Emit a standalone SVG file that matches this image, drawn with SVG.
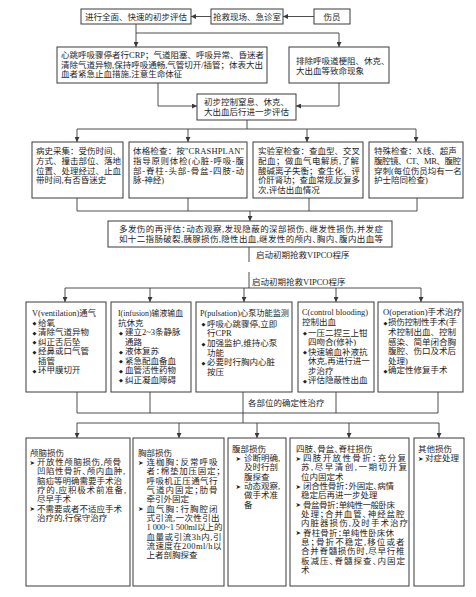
<svg xmlns="http://www.w3.org/2000/svg" width="476" height="597" viewBox="0 0 476 597">
<style>
.t{font-family:"Liberation Serif","Noto Sans CJK SC",serif;font-size:8.5px;fill:#1e1e1e}
.h{font-feature-settings:"halt"}
.m{text-anchor:middle}
.b{fill:#fff;stroke:#3a3a3a;stroke-width:1}
.c{fill:none;stroke:#3a3a3a;stroke-width:0.9}
.a{marker-end:url(#ah)}
.bu{font-family:"DejaVu Sans",sans-serif;font-size:5px;fill:#1e1e1e}
.ar{font-family:"DejaVu Sans",sans-serif;font-size:6.5px;fill:#1e1e1e}
</style>
<defs>
<marker id="ah" viewBox="0 0 8 8" refX="8" refY="4" markerWidth="5" markerHeight="5" orient="auto" markerUnits="userSpaceOnUse"><path d="M0,0 L8,4 L0,8 z" fill="#3a3a3a"/></marker>
</defs>
<rect width="476" height="597" fill="#fff"/>

<g id="connectors">
<path class="c a" d="M314,16.5 H283"/>
<path class="c a" d="M211,16.5 H191"/>
<path class="c a" d="M136,24 V47"/>
<path class="c a" d="M136,33 H339 V47"/>
<path class="c a" d="M158,83 V106 H197"/>
<path class="c a" d="M339,83 V106 H296"/>
<path class="c" d="M247,120 V129 M77,129 H416"/>
<path class="c a" d="M77,129 V142"/>
<path class="c a" d="M188,129 V142"/>
<path class="c a" d="M307,129 V142"/>
<path class="c a" d="M416,129 V142"/>
<path class="c" d="M77,198 V211 H417 V198 M188,198 V211 M309,198 V211"/>
<path class="c a" d="M250,211 V221"/>
<path class="c" d="M249,247 V262 M249,272 V288 M65,288 H421"/>
<path class="c a" d="M65,288 V302"/>
<path class="c a" d="M150,288 V302"/>
<path class="c a" d="M244,288 V302"/>
<path class="c a" d="M336,288 V302"/>
<path class="c a" d="M421,288 V302"/>
<path class="c" d="M77,392 V413 H438 V392 M150,392 V413 M336,392 V413 M243,392 V423 M77,423 H439"/>
<path class="c a" d="M77,423 V438"/>
<path class="c a" d="M179,423 V438"/>
<path class="c a" d="M257,423 V438"/>
<path class="c a" d="M349,423 V438"/>
<path class="c a" d="M439,423 V438"/>
<text class="t" x="256" y="258">启动初期抢救VIPCO程序</text>
<text class="t" x="252" y="285">启动初期抢救VIPCO程序</text>
<text class="t" x="248" y="406">各部位的确定性治疗</text>
</g>

<g id="n-assess">
<rect class="b" x="81" y="9" width="110" height="15"/>
<text class="t m" x="136" y="19.5">进行全面、快速的初步评估</text>
</g>
<g id="n-scene">
<rect class="b" x="211" y="9" width="72" height="15"/>
<text class="t m" x="247" y="19.5">抢救现场、急诊室</text>
</g>
<g id="n-injured">
<rect class="b" x="314" y="9" width="36" height="15"/>
<text class="t m" x="332" y="19.5">伤员</text>
</g>

<g id="n-cpr">
<rect class="b" x="57" y="47" width="210" height="36"/>
<text class="t" x="61" y="57.5">心跳呼吸骤停者行CRP；气道阻塞、呼吸异常、昏迷者</text>
<text class="t" x="61" y="67.5">清除气道异物,保持呼吸通畅,气管切开/插管；体表大出</text>
<text class="t" x="61" y="77">血者紧急止血措施,注意生命体征</text>
</g>
<g id="n-exclude">
<rect class="b" x="289" y="47" width="100" height="36"/>
<text class="t" x="296" y="64">排除呼吸道梗阻、休克、</text>
<text class="t" x="296" y="74">大出血等致命现象</text>
</g>
<g id="n-control">
<rect class="b" x="197" y="94" width="99" height="26"/>
<text class="t" x="204" y="105">初步控制窒息、休克、</text>
<text class="t" x="204" y="115">大出血后行进一步评估</text>
</g>

<g id="n-history">
<rect class="b" x="32" y="142" width="91" height="56"/>
<text class="t" x="36" y="154">病史采集：受伤时间、</text>
<text class="t" x="36" y="163.8">方式、撞击部位、落地</text>
<text class="t" x="36" y="173.6">位置、处理经过、止血</text>
<text class="t" x="36" y="183.4">带时间,有否昏迷史</text>
</g>
<g id="n-physical">
<rect class="b" x="129" y="142" width="118" height="56"/>
<text class="t" x="133" y="154" textLength="111" lengthAdjust="spacing">体格检查：按"CRASHPLAN"</text>
<text class="t" x="133" y="163.8" textLength="111" lengthAdjust="spacing">指导原则体检(心脏-呼吸-腹</text>
<text class="t" x="133" y="173.6" textLength="111" lengthAdjust="spacing">部-脊柱-头部-骨盆-四肢-动</text>
<text class="t" x="133" y="183.4">脉-神经)</text>
</g>
<g id="n-lab">
<rect class="b" x="253" y="142" width="110" height="56"/>
<text class="t" x="258" y="154">实验室检查：查血型、交叉</text>
<text class="t" x="258" y="163.8" textLength="101" lengthAdjust="spacing">配血；做血气电解质,了解</text>
<text class="t" x="258" y="173.6">酸碱离子失衡；查生化、评</text>
<text class="t" x="258" y="183.4" textLength="102" lengthAdjust="spacing">价肝肾功；查血常规,反复多</text>
<text class="t" x="258" y="193.2">次,评估出血情况</text>
</g>
<g id="n-special">
<rect class="b" x="369" y="142" width="94" height="56"/>
<text class="t" x="374" y="154">特殊检查：X线、超声</text>
<text class="t" x="374" y="163.8" textLength="87" lengthAdjust="spacing">腹腔镜、CT、MR、腹腔</text>
<text class="t" x="374" y="173.6">穿刺(每位伤员均有一名</text>
<text class="t" x="374" y="183.4">护士陪同检查)</text>
</g>

<g id="n-reassess">
<rect class="b" x="108" y="221" width="284" height="26"/>
<text class="t h" x="119" y="232" textLength="264" lengthAdjust="spacing">多发伤的再评估：动态观察,发现隐蔽的深部损伤、继发性损伤,并发症</text>
<text class="t h" x="119" y="242" textLength="264" lengthAdjust="spacing">如十二指肠破裂,胰腺损伤,隐性出血,继发性的颅内、胸内、腹内出血等</text>
</g>

<g id="n-v">
<rect class="b" x="26" y="302" width="80" height="90"/>
<text class="t" x="32" y="316" textLength="64" lengthAdjust="spacingAndGlyphs">V(ventilation)通气</text>
<text class="bu" x="32.5" y="325">◆</text><text class="t" x="38" y="325.5">给氧</text>
<text class="bu" x="32.5" y="334.5">◆</text><text class="t" x="38" y="335">清除气道异物</text>
<text class="bu" x="32.5" y="344">◆</text><text class="t" x="38" y="344.5">纠正舌后坠</text>
<text class="bu" x="32.5" y="353.5">◆</text><text class="t" x="38" y="354">经鼻或口气管</text>
<text class="t" x="38" y="363.5">插管</text>
<text class="bu" x="32.5" y="372.5">◆</text><text class="t" x="38" y="373">环甲膜切开</text>
</g>
<g id="n-i">
<rect class="b" x="111" y="302" width="80" height="90"/>
<text class="t" x="118" y="316" textLength="65" lengthAdjust="spacingAndGlyphs">I(infusion)输液输血</text>
<text class="t" x="118" y="325.5">抗休克</text>
<text class="bu" x="119" y="334.5">◆</text><text class="t" x="125" y="335">建立2~3条静脉</text>
<text class="t" x="125" y="344.5">通路</text>
<text class="bu" x="119" y="353.5">◆</text><text class="t" x="125" y="354">液体复苏</text>
<text class="bu" x="119" y="363">◆</text><text class="t" x="125" y="363.5">紧急配血备血</text>
<text class="bu" x="119" y="372.5">◆</text><text class="t" x="125" y="373">血管活性药物</text>
<text class="bu" x="119" y="382">◆</text><text class="t" x="125" y="382.5">纠正凝血障碍</text>
</g>
<g id="n-p">
<rect class="b" x="196" y="302" width="96" height="90"/>
<text class="t" x="200" y="316" textLength="89" lengthAdjust="spacingAndGlyphs">P(pulsation)心泵功能监测</text>
<text class="bu" x="201.5" y="326">◆</text><text class="t" x="207" y="326.5">呼吸心跳骤停,立即</text>
<text class="t" x="207" y="336">行CPR</text>
<text class="bu" x="201.5" y="345.5">◆</text><text class="t" x="207" y="346">加强监护,维持心泵</text>
<text class="t" x="207" y="355.5">功能</text>
<text class="bu" x="201.5" y="364.5">◆</text><text class="t" x="207" y="365">必要时行胸内心脏</text>
<text class="t" x="207" y="374.5">按压</text>
</g>
<g id="n-c">
<rect class="b" x="298" y="302" width="76" height="90"/>
<text class="t" x="302" y="315" textLength="66" lengthAdjust="spacingAndGlyphs">C(control blooding)</text>
<text class="t" x="302" y="324.5">控制出血</text>
<text class="bu" x="303" y="335">◆</text><text class="t" x="308" y="335.5">一压二捏三上钳</text>
<text class="t" x="308" y="345">四吻合(修补)</text>
<text class="bu" x="303" y="354">◆</text><text class="t" x="308" y="354.5">快速输血补液抗</text>
<text class="t" x="308" y="364">休克,再进行进一</text>
<text class="t" x="308" y="373.5">步治疗</text>
<text class="bu" x="303" y="382.5">◆</text><text class="t" x="308" y="383">评估隐蔽性出血</text>
</g>
<g id="n-o">
<rect class="b" x="378" y="302" width="85" height="90"/>
<text class="t" x="383" y="315" textLength="79" lengthAdjust="spacingAndGlyphs">O(operation)手术治疗</text>
<text class="bu" x="383.5" y="324.5">◆</text><text class="t" x="388" y="325" textLength="69" lengthAdjust="spacing">损伤控制性手术(手</text>
<text class="t" x="388" y="335">术控制出血、控制</text>
<text class="t" x="388" y="344.5">感染、简单闭合胸</text>
<text class="t" x="388" y="354">腹腔、伤口及术后</text>
<text class="t" x="388" y="363.5">处理)</text>
<text class="bu" x="383.5" y="372.5">◆</text><text class="t" x="388" y="373">确定性修复手术</text>
</g>

<g id="n-head">
<rect class="b" x="26" y="438" width="104" height="148"/>
<text class="t h" x="30" y="455.5">颅脑损伤</text>
<text class="ar" x="29.5" y="464.6">➤</text><text class="t h" x="37" y="464.85" textLength="84" lengthAdjust="spacing">开放性颅脑损伤,颅骨</text>
<text class="t h" x="37" y="474.2" textLength="88" lengthAdjust="spacing">凹陷性骨折、颅内血肿,</text>
<text class="t h" x="37" y="483.55">脑疝等明确需要手术治</text>
<text class="t h" x="37" y="492.9" textLength="89" lengthAdjust="spacing">疗的,应积极术前准备,</text>
<text class="t h" x="37" y="502.25">尽早手术</text>
<text class="ar" x="29.5" y="511.4">➤</text><text class="t h" x="37" y="511.6">不需要或者不适应手术</text>
<text class="t h" x="37" y="520.95">治疗的,行保守治疗</text>
</g>
<g id="n-chest">
<rect class="b" x="133" y="438" width="91" height="148"/>
<text class="t h" x="138" y="455.5">胸部损伤</text>
<text class="ar" x="138" y="464.6">➤</text><text class="t h" x="146.5" y="464.85" textLength="71" lengthAdjust="spacing">连枷胸：反常呼吸</text>
<text class="t h" x="146.5" y="474.2" textLength="74" lengthAdjust="spacing">者：棉垫加压固定；</text>
<text class="t h" x="146.5" y="483.55" textLength="71" lengthAdjust="spacing">呼吸机正压通气行</text>
<text class="t h" x="146.5" y="492.9" textLength="71" lengthAdjust="spacing">气道内固定；肋骨</text>
<text class="t h" x="146.5" y="502.25">牵引外固定</text>
<text class="ar" x="138" y="511.4">➤</text><text class="t h" x="146.5" y="511.6" textLength="71" lengthAdjust="spacing">血气胸：行胸腔闭</text>
<text class="t h" x="146.5" y="520.95" textLength="73" lengthAdjust="spacing">式引流,一次性引出</text>
<text class="t h" x="146.5" y="530.3" textLength="76" lengthAdjust="spacing">1 000~1 500ml以上的</text>
<text class="t h" x="146.5" y="539.65" textLength="75" lengthAdjust="spacing">血量或引流3h内,引</text>
<text class="t h" x="146.5" y="549" textLength="75" lengthAdjust="spacing">流速度在200ml/h以</text>
<text class="t h" x="146.5" y="558.35">上者剖胸探查</text>
</g>
<g id="n-abdomen">
<rect class="b" x="228" y="438" width="58" height="148"/>
<text class="t h" x="232" y="451.5">腹部损伤</text>
<text class="ar" x="235.5" y="460.6">➤</text><text class="t h" x="244" y="460.85">诊断明确,</text>
<text class="t h" x="244" y="470.2">及时行剖</text>
<text class="t h" x="244" y="479.55">腹探查</text>
<text class="ar" x="235.5" y="488.7">➤</text><text class="t h" x="244" y="488.9">动态观察,</text>
<text class="t h" x="244" y="498.25">做手术准</text>
<text class="t h" x="244" y="507.6">备</text>
</g>
<g id="n-limbs">
<rect class="b" x="290" y="438" width="119" height="148"/>
<text class="t h" x="296" y="451.5">四肢、骨盆、脊柱损伤</text>
<text class="ar" x="295.5" y="460.6">➤</text><text class="t h" x="303" y="460.85" textLength="103" lengthAdjust="spacing">四肢开放性骨折：充分复</text>
<text class="t h" x="301" y="470.2" textLength="106" lengthAdjust="spacing">苏,尽早清创,一期切开复</text>
<text class="t h" x="301" y="479.55">位内固定术</text>
<text class="ar" x="295.5" y="488.7">➤</text><text class="t h" x="303" y="488.9" textLength="91" lengthAdjust="spacing">闭合性骨折：外固定、病情</text>
<text class="t h" x="301" y="498.25">稳定后再进一步处理</text>
<text class="ar" x="295.5" y="507.4">➤</text><text class="t h" x="303" y="507.6" textLength="92" lengthAdjust="spacing">骨盆骨折：单纯性一般卧床</text>
<text class="t h" x="301" y="516.95" textLength="103.5" lengthAdjust="spacing">处理；合并血管、神经盆腔</text>
<text class="t h" x="301" y="526.3" textLength="107" lengthAdjust="spacing">内脏器损伤,及时手术治疗</text>
<text class="ar" x="295.5" y="535.4">➤</text><text class="t h" x="303" y="535.65" textLength="91" lengthAdjust="spacing">脊柱骨折：单纯性卧床休</text>
<text class="t h" x="301" y="545" textLength="103.5" lengthAdjust="spacing">息；骨折不稳定,移位或者</text>
<text class="t h" x="301" y="554.35" textLength="103.5" lengthAdjust="spacing">合并脊髓损伤时,尽早行椎</text>
<text class="t h" x="301" y="563.7" textLength="104" lengthAdjust="spacing">板减压、脊髓探查、内固定</text>
<text class="t h" x="301" y="573.05">术</text>
</g>
<g id="n-other">
<rect class="b" x="414" y="438" width="50" height="148"/>
<text class="t h" x="418" y="451.5">其他损伤</text>
<text class="ar" x="418" y="460.6">➤</text><text class="t h" x="425" y="460.85">对症处理</text>
</g>
</svg>
